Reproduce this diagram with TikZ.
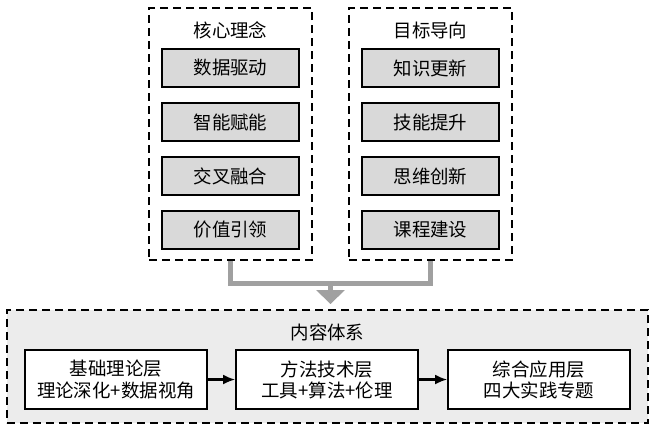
\documentclass[tikz,border=0pt]{standalone}
\usepackage{fontspec}
\setmainfont{Noto Sans CJK SC}
\usepackage{tikz}
\usetikzlibrary{arrows.meta,calc}

\definecolor{itemgray}{HTML}{D9D9D9}
\definecolor{panelgray}{HTML}{ECECEC}
\definecolor{linkgray}{HTML}{A0A0A0}

\tikzset{
  group/.style={draw,line width=1.1pt,dash pattern=on 1.6mm off 1mm,inner sep=0},
  item/.style={draw,fill=itemgray,line width=1pt,minimum width=27.4mm,minimum height=7.6mm,inner sep=0},
  layer/.style={draw,fill=white,line width=1pt,minimum width=36.4mm,minimum height=11.8mm,inner sep=0,align=center},
  link/.style={draw=linkgray,line width=1mm},
  flow/.style={line width=1.2pt,-{Latex[length=2.4mm,width=2mm]}}
}

\begin{document}
\begin{tikzpicture}[x=0.2mm,y=-0.2mm,font=\fontsize{10.5}{12}\selectfont]
  \useasboundingbox (0,0) rectangle (651,426);
  % two panels on top
  \node[group,fill=white,minimum width=32.6mm,minimum height=50.4mm] (core) at (230.5,134) {};
  \node[group,fill=white,minimum width=32.6mm,minimum height=50.4mm] (goal) at (430.5,134) {};
  \node (coret) at (230.5,30) {核心理念};
  \node (goalt) at (430.5,30) {目标导向};
  \node[item] (c1) at (230.5,68) {数据驱动};
  \node[item] (c2) at (230.5,122) {智能赋能};
  \node[item] (c3) at (230.5,176) {交叉融合};
  \node[item] (c4) at (230.5,230) {价值引领};
  \node[item] (g1) at (430.5,68) {知识更新};
  \node[item] (g2) at (430.5,122) {技能提升};
  \node[item] (g3) at (430.5,176) {思维创新};
  \node[item] (g4) at (430.5,230) {课程建设};
  % content panel
  \node[group,fill=panelgray,minimum width=128.2mm,minimum height=22.6mm] (content) at (327.5,366.5) {};
  \node (contentt) at (327.5,332) {内容体系};
  \node[layer] (base) at (116,379.5) {基础理论层\\理论深化+数据视角};
  \node[layer] (tech) at (327,379.5) {方法技术层\\工具+算法+伦理};
  \node[layer] (apply) at (539,379.5) {综合应用层\\四大实践专题};
  \draw[flow] (base) -- (tech);
  \draw[flow] (tech) -- (apply);
  % gray merge arrow
  \coordinate (merge) at ($(core.south)!0.5!(goal.south)+(0,23)$);
  \draw[link] (core.south) -- ++(0,23) -| (goal.south);
  \draw[link,shorten >=1mm,-{Triangle[length=2.8mm,width=5.6mm]}] (merge) -- (merge |- content.north);
\end{tikzpicture}
\end{document}
